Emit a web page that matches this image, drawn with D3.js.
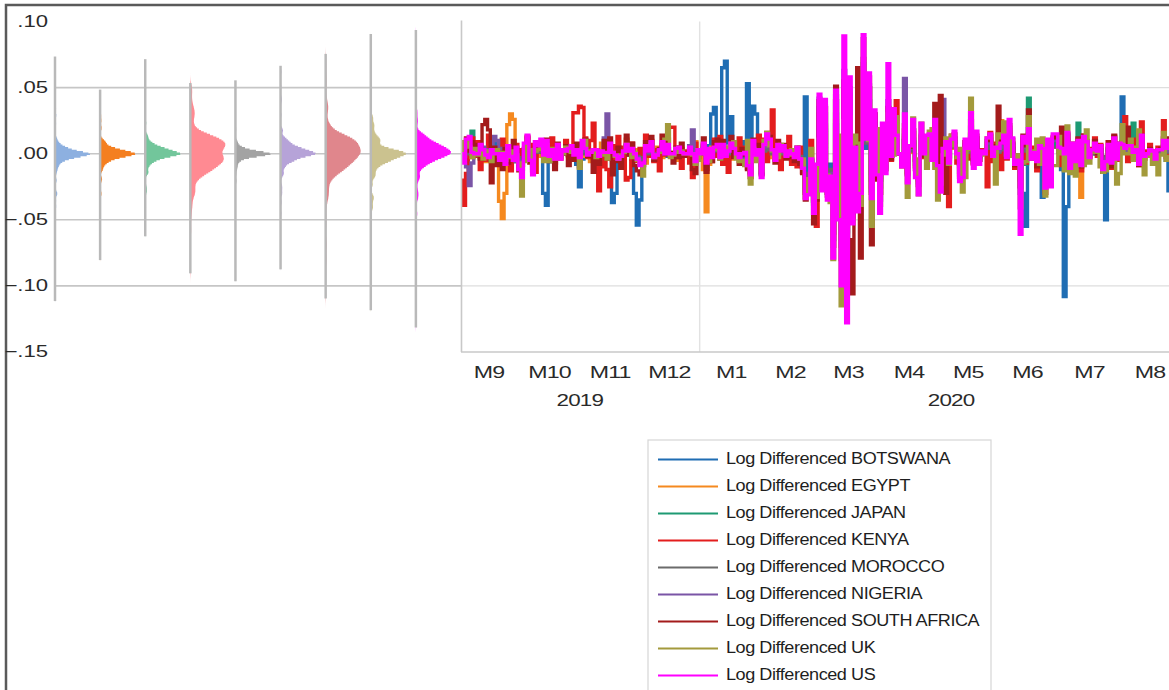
<!DOCTYPE html>
<html><head><meta charset="utf-8">
<script src="https://cdn.jsdelivr.net/npm/d3@7"></script>
<style>
html,body{margin:0;padding:0;background:#fff;}
svg{display:block;}
text{font-family:"Liberation Sans",Arial,sans-serif;}
</style></head><body>
<svg id="chart" width="1169" height="690"></svg>
<script>
// ---------- DATA ----------
const seriesNames = ["BOTSWANA","EGYPT","JAPAN","KENYA","MOROCCO","NIGERIA","SOUTH AFRICA","UK","US"];
const lineColors = ["#1f6db3","#f5891f","#1e9a73","#e31d1d","#6b6b6b","#7a55a6","#a31b1b","#a39a3c","#ff00ff"];
const densityColors = ["#8db0e0","#f47f20","#72c69b","#ff8a92","#a3a3a3","#b6a3d8","#e0868c","#cbc28f","#ff10ff"];
const firstObs = "2019-09-02";            // first business day of the daily (5-day) sample
const yTicks = [0.10, 0.05, 0.00, -0.05, -0.10, -0.15];
const monthLabels = ["M9","M10","M11","M12","M1","M2","M3","M4","M5","M6","M7","M8"];
const yearLabels = ["2019","2020"];

// log differences, in thousandths, one row per month (Sep 2019 ... Aug 2020)
const botswana = [
 1,-2,0,5,-1,0,2,0,-3,1,0,-1,8,0,-1,1,-4,0,1,-6,0,
 -1,2,0,-1,1,-5,0,3,-1,-30,-39,-6,1,0,-2,1,0,2,0,1,-3,-8,-25,
 -4,1,2,0,0,1,-2,0,6,-1,-3,-37,-30,-2,1,0,-1,2,-4,-30,-54,
 -35,-6,2,0,-1,3,0,-1,1,-2,1,0,-3,1,0,1,-1,0,0,5,-1,1,
 0,3,-2,6,30,35,5,4,65,70,8,28,2,5,2,-3,9,53,4,36,30,8,-4,
 2,-3,5,1,-5,2,0,-2,4,0,-1,1,-4,1,-8,43,-30,-12,-20,-15,
 15,-10,18,-14,-8,-35,22,-20,-40,30,-45,25,-28,6,-18,-12,35,4,24,-15,12,-6,
 -20,10,-6,22,-2,12,4,0,-3,10,-9,2,8,-5,-12,9,-1,3,6,-2,7,-3,
 -10,2,4,-3,5,7,-1,-8,-6,3,1,12,-4,5,-2,0,0,3,6,-1,2,
 1,3,5,-1,9,4,-3,-2,-20,-30,-55,7,-2,0,-3,2,-33,-10,4,-8,5,6,
 2,-12,-108,-40,-4,3,-2,4,-3,5,3,-1,0,2,0,1,-5,-50,-8,-2,4,-1,2,
 43,12,2,1,0,0,-3,5,-1,0,0,1,-1,0,1,3,-5,-28,-3,2,0];
const egypt = [
 2,-1,5,0,-3,9,1,-2,0,-6,1,3,0,-8,-36,-49,-30,22,30,26,-6,
 3,-7,1,10,-1,-4,0,2,-2,6,0,1,-3,0,4,-1,0,7,-2,1,-5,0,3,
 -2,4,0,-6,1,3,-1,8,-3,0,1,-5,0,2,-1,-2,11,0,-4,1,3,
 -1,2,-7,3,0,-2,5,0,-3,1,2,0,1,-5,0,4,-1,0,2,-3,9,-1,
 0,-12,-44,-8,5,2,-1,3,-2,1,0,-4,1,6,-3,2,0,1,-6,4,-2,0,-7,
 2,-1,5,-3,0,4,-2,1,0,3,-5,2,0,-6,-10,-25,-18,-9,-28,-20,
 15,-12,20,-22,-18,-38,25,-30,-55,45,-77,28,-40,10,-30,-20,40,18,30,-25,20,-12,
 -18,12,-4,20,-2,10,3,0,-3,12,-8,1,9,-10,-14,6,-1,4,7,-3,10,-5,
 -9,3,5,-2,4,7,-1,-8,-5,2,1,10,-3,5,-2,0,0,4,8,-1,2,
 1,25,6,-2,10,4,-3,-1,-18,7,2,9,-2,0,-4,3,1,-12,4,-11,6,5,
 1,2,0,8,-5,3,-2,4,-33,6,3,-1,1,3,0,2,-6,-3,3,-4,5,-1,2,
 3,1,2,2,0,1,-3,6,-1,0,1,0,-2,1,1,4,1,4,0,3,-1];
const japan = [
 3,-2,1,10,17,4,-1,5,0,-3,2,0,1,-5,3,0,-2,1,-6,0,-1,
 -7,-12,2,6,-3,-9,4,3,7,0,8,-1,2,-2,4,-1,1,0,2,3,0,1,-2,
 5,2,0,1,0,1,-2,0,0,-3,4,-1,0,-5,-2,1,6,0,2,0,-3,
 -6,-5,3,1,7,-1,0,2,5,0,4,0,-1,2,3,0,0,-1,3,0,-5,1,
 0,5,-8,2,-1,3,6,-2,4,-1,1,7,2,0,-3,0,0,-7,-14,8,-1,2,-15,
 4,12,8,1,-3,5,1,4,-2,0,0,-3,3,-4,-10,-30,-28,-6,-38,-12,
 35,-22,30,-28,-14,-50,40,-40,-55,50,-59,45,-42,6,-35,-25,68,12,50,-28,28,-14,
 -25,14,-6,25,-2,15,5,0,-5,14,-10,3,11,-8,-16,8,0,4,8,-2,12,-4,
 -14,2,5,-3,6,9,0,-10,-8,5,2,14,-5,7,-3,1,0,6,9,-1,3,
 2,5,10,-2,14,7,-4,-3,-25,10,-8,42,-2,0,-4,4,2,-14,5,-12,8,7,
 2,2,0,10,-6,4,-3,23,-5,7,5,-1,1,4,0,3,-8,-4,4,-4,6,-2,4,
 4,2,3,3,23,1,-4,9,-1,0,1,0,-2,1,1,5,2,5,0,3,-1];
const kenya = [
 -20,-39,-15,6,12,-2,9,-12,1,-5,14,0,-8,4,-1,11,-6,2,-13,0,7,
 -10,3,-5,13,-2,7,-14,1,9,-3,6,0,12,-7,2,-4,0,10,-1,5,31,31,36,
 35,12,-3,10,23,-5,-28,-10,2,-12,-25,6,-4,13,-1,5,-20,-18,8,0,-6,
 4,-9,14,-2,10,-6,3,-13,7,-1,9,20,20,-3,5,-11,2,0,-7,-18,8,-3,
 0,7,-12,3,-6,11,-2,13,-8,4,-14,1,9,-3,12,0,5,-11,-15,7,-4,14,-9,
 11,-6,8,33,-3,7,-12,4,-2,13,-8,3,-10,5,-14,-30,-25,10,-35,-55,
 30,-25,35,-30,-16,-60,40,-45,-70,48,-87,45,-48,6,-38,-28,50,10,50,-30,30,-15,
 -30,18,-10,30,-5,14,40,0,-8,18,-14,6,16,-10,-20,12,-3,8,12,-5,15,-8,
 -18,8,-12,-40,14,6,-7,-16,-10,9,-4,15,-8,12,-5,3,0,-25,16,-6,8,
 7,-12,14,-4,16,8,-11,-5,-20,12,-7,15,-3,5,-13,8,-4,-30,6,-16,12,10,
 6,-9,3,14,-12,7,-4,11,-13,14,8,-3,4,12,-2,7,-14,-8,9,-11,13,-5,6,
 8,28,-6,7,-3,11,-9,24,-4,2,7,-2,-8,5,3,25,-3,9,-6,12,-4];
const morocco = [
 1,-3,2,0,-1,4,0,2,-2,0,1,-5,3,0,0,-1,2,-2,0,1,0,
 -3,-6,1,5,0,-4,2,1,3,-1,2,0,0,-2,1,0,0,2,-1,0,-2,1,0,
 3,0,-1,2,0,1,-2,0,1,0,2,-1,0,-4,0,1,2,0,1,0,-2,
 -4,-3,2,0,3,-1,0,1,2,0,1,0,-1,0,2,0,0,0,1,0,-2,1,
 0,3,-5,1,-1,2,3,-1,2,0,0,3,1,0,-1,0,0,-4,-8,5,0,1,-9,
 2,6,3,0,-2,2,0,2,-1,0,0,-1,1,-2,-6,-18,-15,-5,-25,-12,
 20,-15,22,-20,-12,-45,30,-30,-60,40,-93,35,-40,4,-30,-22,52,8,40,-20,18,-10,
 -20,10,-6,18,-1,12,4,0,-4,10,-8,2,9,-5,-12,6,0,3,6,-2,9,-3,
 -10,2,4,-2,5,7,0,-8,-6,4,1,10,-3,5,-2,0,0,4,6,0,2,
 1,3,5,-1,9,4,-2,-1,-15,6,2,8,-1,0,-2,2,1,-10,4,-9,5,5,
 1,1,0,6,-3,2,-1,3,-3,4,3,0,0,2,0,1,-5,-2,2,-2,4,-1,2,
 2,1,1,1,0,0,-2,5,0,0,0,0,-1,0,0,3,1,3,0,2,0];
const nigeria = [
 2,-6,-10,-24,-7,4,1,-3,5,-1,3,-4,13,10,-2,4,-5,2,0,3,-6,
 -5,-9,3,8,-2,-6,4,2,5,0,7,-1,2,-2,4,-1,1,0,2,5,0,1,-2,
 5,2,-1,1,0,2,-4,1,12,30,4,-1,0,-5,-2,1,6,0,2,0,-3,
 -6,-5,3,1,7,-1,0,2,5,0,4,0,-1,2,3,0,0,0,6,18,-4,1,
 0,6,-9,2,-2,3,6,-1,4,-1,1,7,2,0,-3,0,0,-8,-14,9,0,2,-14,
 5,13,9,2,-4,5,1,4,-1,1,0,-3,3,-4,-10,-28,-26,-5,-36,-10,
 42,-24,36,-30,-15,-65,44,-44,-70,63,-84,50,-45,5,-38,-26,62,10,52,-30,30,-14,
 -35,18,-10,40,-2,25,8,0,-6,57,-15,4,18,-12,-22,14,-1,8,12,-4,18,-6,
 -15,41,7,-4,9,12,0,-14,-10,7,2,20,-7,12,-5,1,0,8,11,-1,3,
 2,5,10,-1,18,8,-5,-3,-30,10,5,14,-2,0,-4,4,2,-18,7,-17,10,10,
 3,2,0,11,-7,5,-3,6,-6,9,6,-1,1,5,0,3,-9,-4,4,-4,8,-2,5,
 4,2,3,3,0,1,-5,10,-1,0,1,0,-2,1,1,6,2,6,0,4,-1];
const southAfrica = [
 3,-6,12,2,9,-1,7,-4,22,26,18,-22,5,-9,1,-12,4,-7,-2,10,3,
 -13,-9,4,12,-7,-13,5,9,3,-2,11,-6,1,-12,8,-3,0,6,-9,2,-5,8,-10,
 6,11,-2,1,-14,3,-8,0,10,-4,12,-16,-6,5,-11,2,14,-1,8,-9,-13,
 -16,-7,9,2,13,-5,-1,4,14,0,11,1,-7,5,-3,8,-2,0,3,-12,-15,2,
 0,12,-14,3,-6,9,11,-4,10,-2,5,13,-3,1,-8,4,-1,-12,-18,11,-4,7,-16,
 8,16,13,3,-7,10,2,7,-4,1,-3,-6,5,-8,-15,-35,-30,-12,-53,-35,
 40,-25,35,-32,-28,-70,51,-48,-80,55,-90,-65,-106,-40,65,-79,72,15,58,-69,30,-20,
 -30,18,-12,35,-4,20,10,0,-10,22,-16,5,18,-12,-24,13,-2,8,14,-5,38,-8,
 44,6,-30,-6,12,15,-2,-18,-12,9,3,25,-7,14,-5,2,0,10,14,-2,6,
 36,8,15,-3,20,11,-9,-5,-25,14,6,33,-4,1,-10,7,3,-20,10,-18,13,12,
 5,20,0,15,-11,8,-6,12,-10,14,10,-2,3,10,0,6,-14,-8,9,-10,14,-4,8,
 9,4,20,7,1,3,-9,14,-2,0,4,2,-6,3,4,12,5,12,1,9,-3];
const uk = [
 9,-2,10,5,-3,4,-1,3,-4,2,0,-6,1,3,-2,1,-5,4,-3,2,-1,
 -7,-32,-6,10,3,-11,2,3,6,-6,7,-6,4,-4,2,-3,0,5,2,1,2,3,-11,
 4,10,1,2,1,-3,2,1,-1,-4,1,1,-2,-4,-1,1,7,2,-3,1,-5,
 -8,-17,4,4,8,-3,-1,1,1,11,22,-3,-1,4,1,2,0,0,0,-1,-8,-5,
 0,2,-5,-6,4,3,3,-4,-1,0,5,8,9,-4,-6,-5,-9,10,-23,4,-6,2,-13,
 10,16,6,2,-5,-3,7,3,-1,-1,3,1,5,-4,-4,-33,-19,4,-36,-33,
 11,14,14,-16,-37,-80,-1,14,-115,25,-41,28,-42,14,8,-39,87,44,10,-55,10,19,
 -39,5,-12,30,22,-1,28,0,0,-9,-33,6,27,-4,-31,23,11,-11,17,19,-11,-35,
 -23,-1,12,-8,14,6,-3,4,-29,-18,3,42,-2,1,-4,-1,0,12,13,-2,-23,
 15,12,24,-1,22,-2,-7,-1,-41,-7,-6,28,2,0,11,-8,12,-32,3,1,-9,-9,
 13,0,-13,21,-15,0,-17,-1,1,-9,18,-7,3,1,1,-10,-14,-13,0,-3,-4,-23,-15,
 22,0,0,11,-5,5,18,2,-16,-2,0,-8,-4,-16,-1,16,-5,-2,-17,-6,0];
const us = [
 0,-7,11,13,1,0,0,7,3,-1,-3,3,0,0,-5,0,-8,6,-2,-5,5,
 -12,-18,8,14,-5,-16,9,6,11,-1,10,-2,3,-4,7,-4,3,2,4,6,-1,3,-3,
 10,4,-1,1,3,3,-2,2,1,1,8,1,-1,-4,-2,2,7,2,4,0,-4,
 -9,-7,6,2,9,-3,-1,3,9,0,7,0,0,4,5,1,0,0,5,0,-6,3,
 0,8,-7,4,-3,5,7,-3,7,-2,2,8,4,0,-3,0,1,-9,-16,10,-1,3,-18,
 7,15,11,3,-5,7,2,6,-2,2,0,-3,5,-4,-11,-34,-31,-4,-45,-8,
 45,-28,41,-35,-17,-79,48,-50,-100,89,-128,58,-53,5,-44,-30,90,11,61,-34,33,-16,
 -45,23,-15,68,-2,34,14,0,-10,30,-22,6,26,-18,-31,23,0,14,15,-5,26,-9,
 -29,4,9,-7,11,17,0,-21,-18,11,4,31,-11,17,-8,2,0,12,15,-2,5,
 4,8,14,-3,26,12,-8,-5,-61,13,8,19,-4,1,-6,6,4,-26,11,-25,15,15,
 5,4,0,16,-11,8,-6,10,-9,13,9,-3,3,8,2,6,-12,-6,7,-7,12,-4,8,
 7,4,6,6,1,3,-8,14,-2,0,3,2,-4,3,3,10,4,10,2,7,-2];
const seriesValues = [botswana, egypt, japan, kenya, morocco, nigeria, southAfrica, uk, us];

(function draw() {
const series = seriesNames.map((name, i) => ({
  name, color: lineColors[i], fill: densityColors[i],
  values: seriesValues[i].map(v => v / 1000)
}));
const nObs = d3.max(series, s => s.values.length);
// 5-day (Mon-Fri) observation calendar
const dates = [];
{ const d = new Date(firstObs + "T00:00:00");
  while (dates.length < nObs) { const wd = d.getDay(); if (wd !== 0 && wd !== 6) dates.push(new Date(d)); d.setDate(d.getDate() + 1); } }

const svg = d3.select("#chart");
const W = 1169, H = 690;

svg.append("rect").attr("x", 6).attr("y", 5).attr("width", W + 20).attr("height", H + 20)
  .attr("fill", "#fff").attr("stroke", "#5a5a5a").attr("stroke-width", 2.5);

const plotTop = 21.5, plotBottom = 352;
const y = d3.scaleLinear().domain([-0.15, 0.10]).range([plotBottom, plotTop]);
const innerTicks = yTicks.filter(t => t < 0.099 && t > -0.149);

// ---- left panel: distributions ----
const band = d3.scaleBand().domain(seriesNames).range([55, 461]).paddingInner(0).paddingOuter(0);
const leftG = svg.append("g");
leftG.selectAll("line").data(innerTicks).join("line")
  .attr("x1", 55).attr("x2", 461).attr("y1", d => y(d)).attr("y2", d => y(d))
  .attr("stroke", "#c6c6c6").attr("stroke-width", 1.6);

function kde(vals) {
  const n = vals.length, s = vals.slice().sort(d3.ascending);
  const sd = d3.deviation(s), iqr = d3.quantile(s, 0.75) - d3.quantile(s, 0.25);
  const h = Math.max(0.0016, 0.9 * Math.min(sd, iqr / 1.34) * Math.pow(n, -0.2));
  const step = 0.001, lo = Math.floor((s[0] - 3 * h) / step) * step, hi = s[n - 1] + 3 * h, out = [];
  for (let t = lo; t <= hi; t += step) {
    let acc = 0; for (const v of s) { const u = (t - v) / h; acc += Math.exp(-0.5 * u * u); }
    out.push([t, acc / (n * h * Math.sqrt(2 * Math.PI))]);
  }
  return out;
}
const maxW = 35, pad = 0.0035;
series.forEach(s => {
  const x0 = band(s.name);
  const dens = kde(s.values);
  const wScale = d3.scaleLinear().domain([0, d3.max(dens, d => d[1])]).range([0, maxW]);
  const area = d3.area().curve(d3.curveStepAfter)
    .y(d => y(d[0])).x0(x0).x1(d => x0 + wScale(d[1]));
  leftG.append("path").attr("d", area(dens)).attr("fill", s.fill);
  const ext = d3.extent(s.values);
  leftG.append("line").attr("x1", x0).attr("x2", x0)
    .attr("y1", y(ext[1] + pad)).attr("y2", y(ext[0] - pad))
    .attr("stroke", "#b9b9b9").attr("stroke-width", 2.5);
});

svg.append("g").selectAll("text").data(yTicks).join("text")
  .attr("transform", d => `translate(48,${y(d) + 5}) scale(1.38,1)`)
  .attr("text-anchor", "end").attr("font-size", 16).attr("fill", "#2a2a2a")
  .text(d => d3.format(".2f")(d).replace("0.", "."));

// ---- right panel: time series (observations evenly spaced) ----
const x = d3.scaleLinear().domain([-0.5, nObs - 0.5]).range([460, 1179]);
const rightG = svg.append("g");
rightG.selectAll("line").data(innerTicks).join("line")
  .attr("x1", 461).attr("x2", W).attr("y1", d => y(d)).attr("y2", d => y(d))
  .attr("stroke", "#dedede").attr("stroke-width", 1.4);

const monthGroups = d3.groups(d3.range(nObs), i => d3.timeMonth.floor(dates[i]).getTime());
const janStart = monthGroups.find(g => new Date(g[0]).getMonth() === 0)[1][0];
rightG.append("line").attr("x1", x(janStart - 0.5)).attr("x2", x(janStart - 0.5))
  .attr("y1", plotTop).attr("y2", plotBottom).attr("stroke", "#e2e2e2").attr("stroke-width", 1.4);

svg.append("defs").append("clipPath").attr("id", "clipR").append("rect")
  .attr("x", 462).attr("y", plotTop - 2).attr("width", W - 462).attr("height", plotBottom - plotTop + 1);
const line = d3.line().curve(d3.curveStep).x((d, i) => x(i)).y(d => y(d));
const linesG = rightG.append("g").attr("clip-path", "url(#clipR)");
series.forEach(s => {
  linesG.append("path").attr("d", line(s.values)).attr("fill", "none")
    .attr("stroke", s.color).attr("stroke-width", 3.4).attr("stroke-linejoin", "miter");
});
rightG.append("line").attr("x1", 461.5).attr("x2", 461.5).attr("y1", plotTop - 1).attr("y2", plotBottom)
  .attr("stroke", "#c8c8c8").attr("stroke-width", 1.6);
rightG.append("line").attr("x1", 461).attr("x2", W).attr("y1", plotBottom).attr("y2", plotBottom)
  .attr("stroke", "#c8c8c8").attr("stroke-width", 1.6);

svg.append("g").selectAll("text").data(monthGroups).join("text")
  .attr("transform", g => `translate(${x((g[1][0] + g[1][g[1].length - 1]) / 2)},377.5) scale(1.45,1)`)
  .attr("text-anchor", "middle").attr("font-size", 16).attr("fill", "#2a2a2a").attr("letter-spacing", -0.6)
  .text((g, i) => monthLabels[i]);
// year labels: centred over each year's stretch of the axis (the axis runs on past the window)
const axisObsSpan = [-7, 269];
svg.append("g").selectAll("text").data(yearLabels).join("text")
  .attr("transform", yr => {
    const idx = d3.range(nObs).filter(i => dates[i].getFullYear() === +yr);
    const a = Math.max(idx[0] - 0.5, axisObsSpan[0]);
    const b = +yr === dates[nObs - 1].getFullYear() ? axisObsSpan[1] : idx[idx.length - 1] + 0.5;
    return `translate(${x((a + b) / 2)},406) scale(1.4,1)`;
  })
  .attr("text-anchor", "middle").attr("font-size", 16).attr("fill", "#2a2a2a").attr("letter-spacing", -0.6)
  .text(d => d);

// ---- legend ----
const lg = svg.append("g");
lg.append("rect").attr("x", 648).attr("y", 440).attr("width", 343).attr("height", 270)
  .attr("fill", "#fff").attr("stroke", "#d6d6d6").attr("stroke-width", 1.2);
const ly = d3.scalePoint().domain(seriesNames).range([459.5, 675.5]);
series.forEach(s => {
  lg.append("line").attr("x1", 658).attr("x2", 718).attr("y1", ly(s.name)).attr("y2", ly(s.name))
    .attr("stroke", s.color).attr("stroke-width", 1.8);
  lg.append("text").attr("transform", `translate(726,${ly(s.name) + 4.5}) scale(1.13,1)`)
    .attr("font-size", 16).attr("fill", "#1e1e1e").attr("letter-spacing", -0.4)
    .text("Log Differenced " + s.name);
});
})();
</script>
</body></html>
